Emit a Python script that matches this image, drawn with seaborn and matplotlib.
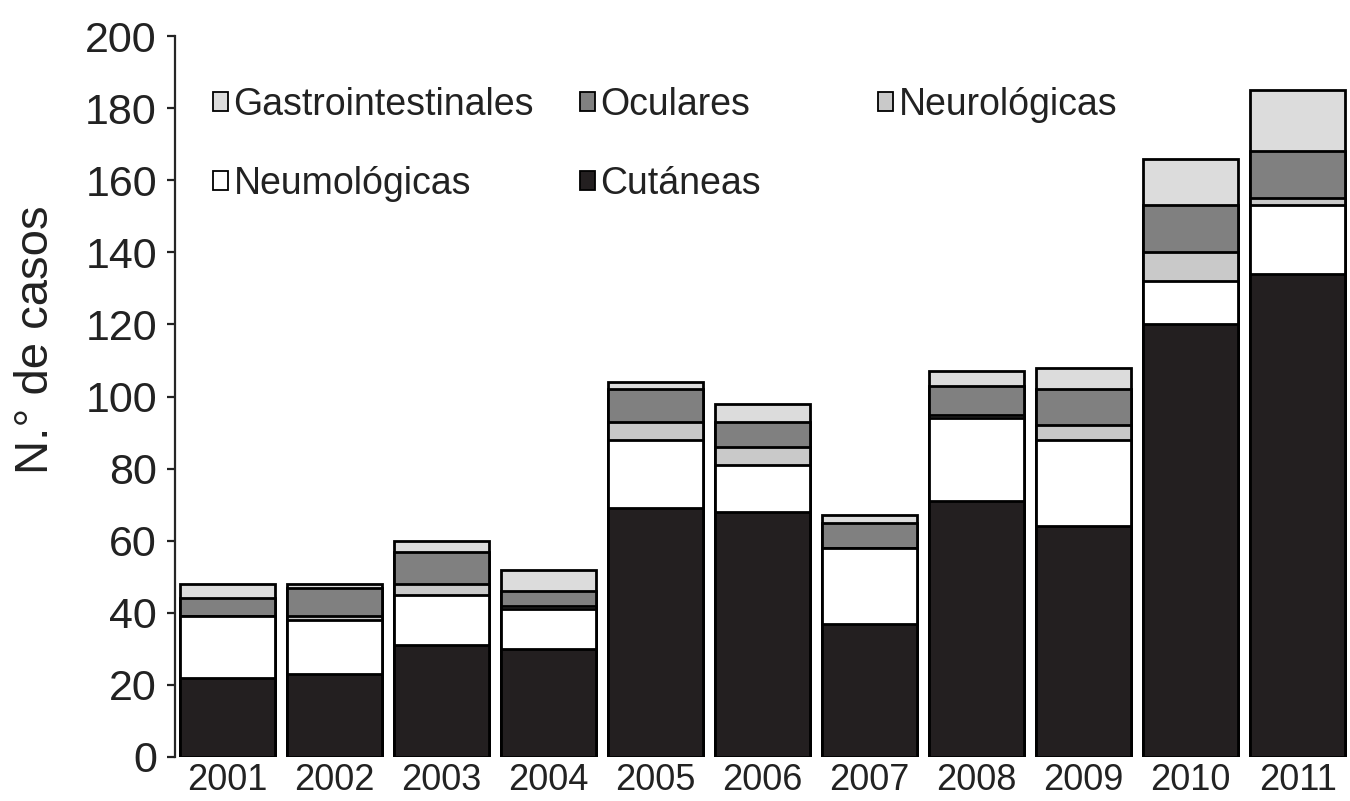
import matplotlib
matplotlib.use("Agg")
import matplotlib.pyplot as plt
import matplotlib.patches as mpatches
import seaborn as sns
import numpy as np
import pandas as pd

years = ["2001", "2002", "2003", "2004", "2005", "2006", "2007", "2008", "2009", "2010", "2011"]

# stacked from bottom to top
cutaneas = [22, 23, 31, 30, 69, 68, 37, 71, 64, 120, 134]
neumologicas = [17, 15, 14, 11, 19, 13, 21, 23, 24, 12, 19]
neurologicas = [0, 1, 3, 1, 5, 5, 0, 1, 4, 8, 2]
oculares = [5, 8, 9, 4, 9, 7, 7, 8, 10, 13, 13]
gastro = [4, 1, 3, 6, 2, 5, 2, 4, 6, 13, 17]

series = [
    ("Cutáneas", cutaneas, "#231f20"),
    ("Neumológicas", neumologicas, "#ffffff"),
    ("Neurológicas", neurologicas, "#c9c9c9"),
    ("Oculares", oculares, "#808080"),
    ("Gastrointestinales", gastro, "#dcdcdc"),
]

sns.set_style("ticks")
plt.rcParams["font.family"] = ["Liberation Sans", "DejaVu Sans"]

fig = plt.figure(figsize=(13.5, 8.01), dpi=100)
ax = fig.add_axes([175 / 1350, 44 / 801, 1 - 175 / 1350, 721 / 801])

# cumulative totals, drawn tallest first so each layer covers the one below
cum = np.cumsum([s[1] for s in series], axis=0)
for i in range(len(series) - 1, -1, -1):
    df = pd.DataFrame({"year": years, "value": cum[i]})
    sns.barplot(data=df, x="year", y="value", color=series[i][2],
                saturation=1, edgecolor="black", linewidth=2.0,
                width=0.89, ax=ax)

ax.set_ylim(0, 200)
ax.set_xlim(-0.49, 10.49)
ax.set_yticks(range(0, 201, 20))
ax.set_xlabel("")
ax.set_ylabel("")
sns.despine(ax=ax, bottom=True, right=True, top=True)
ax.spines["left"].set_linewidth(1.6)
ax.tick_params(axis="y", labelsize=31, length=6, width=1.6, pad=7, colors="#222222")
ax.tick_params(axis="x", labelsize=26, length=0, pad=4, colors="#222222")

fig.text(36 / 1350, 1 - 340 / 801, "N.° de casos", rotation=90,
         ha="center", va="center", fontsize=34, color="#222222")

# legend laid out in three columns like the original
cols = [
    (213, ["Gastrointestinales", "Neumológicas"]),
    (580, ["Oculares", "Cutáneas"]),
    (878, ["Neurológicas"]),
]
colors = {name: c for name, _, c in series}
for x0, names in cols:
    handles = [mpatches.Patch(facecolor=colors[n], edgecolor="black", linewidth=1.3, label=n)
               for n in names]
    leg = fig.legend(handles=handles, loc="upper left",
                     bbox_to_anchor=(x0 / 1350, 1 - 87 / 801),
                     frameon=False,
                     fontsize=27, handlelength=0.4, handleheight=0.4,
                     handletextpad=0.15, labelspacing=1.15,
                     borderpad=0, borderaxespad=0)
    for t in leg.get_texts():
        t.set_color("#222222")

fig.savefig("out.png", dpi=100)
